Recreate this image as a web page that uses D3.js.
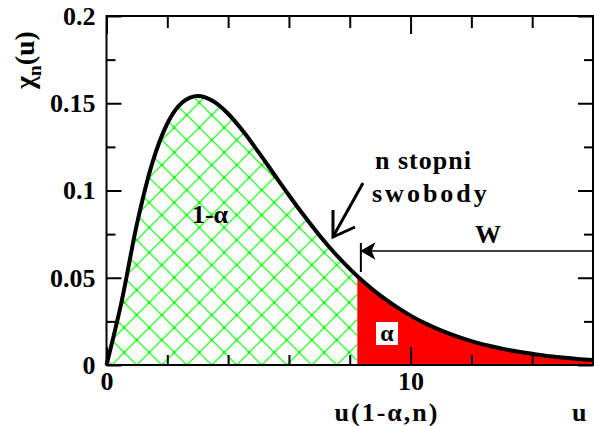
<!DOCTYPE html>
<html>
<head>
<meta charset="utf-8">
<script src="https://cdn.jsdelivr.net/npm/d3@7"></script>
<style>
  html, body { margin: 0; padding: 0; background: #fff; }
  svg { display: block; }
  text { font-family: "Liberation Serif", "Times New Roman", serif; font-weight: bold; fill: #000; }
</style>
</head>
<body>
<svg id="chart" width="594" height="426"></svg>
<script>
// ---- data ----
const uValues   = [0, 0.5, 1, 1.5, 2, 2.5, 3, 3.5, 4, 4.5, 5, 5.5, 6, 6.5, 7, 7.5, 8, 8.5, 9, 9.5, 10, 10.5, 11, 11.5, 12, 12.5, 13, 13.5, 14, 14.5, 15, 15.5, 16];
const chiValues = [0, 0.0366, 0.0807, 0.1154, 0.1384, 0.1506, 0.1542, 0.1513, 0.1440, 0.1338, 0.1220, 0.1096, 0.0973, 0.0855, 0.0744, 0.0642, 0.0551, 0.0470, 0.0399, 0.0337, 0.0283, 0.0237, 0.0198, 0.0165, 0.0137, 0.0113, 0.0094, 0.0077, 0.0064, 0.0052, 0.0043, 0.0035, 0.0029];
const criticalU = 8.25;
const xMajorTicks = [0, 10];
const xMinorTicks = [2, 4, 6, 8, 12, 14];
const yMajorTicks = [0, 0.05, 0.1, 0.15, 0.2];
const yMinorTicks = [0.025, 0.075, 0.125, 0.175];
const xDomain = [0, 16];
const yDomain = [0, 0.2];

// ---- layout ----
const svg = d3.select("#chart");
const L = 106.5, R = 593, T = 16, B = 365;
const x = d3.scaleLinear().domain(xDomain).range([L, R]);
const y = d3.scaleLinear().domain(yDomain).range([B, T]);

const pts = uValues.map((u, i) => ({u, v: chiValues[i]}));

// hatch pattern
const defs = svg.append("defs");
const pat = defs.append("pattern")
  .attr("id", "hatch").attr("patternUnits", "userSpaceOnUse")
  .attr("width", 25).attr("height", 25).attr("x", 11.7).attr("y", 15);
pat.append("path").attr("d", "M0,0 L25,25 M25,0 L0,25 M-5,20 L5,30 M20,-5 L30,5 M-5,5 L5,-5 M20,30 L30,20")
  .attr("stroke", "#00ff00").attr("stroke-width", 1.2).attr("fill", "none");
[[0,0],[12.5,12.5],[25,0],[0,25],[25,25]].forEach(([a,b]) =>
  pat.append("rect").attr("x", a-1.2).attr("y", b-1.2).attr("width", 2.4).attr("height", 2.4).attr("fill", "#00ff00"));

defs.append("clipPath").attr("id", "clipLeft").append("rect")
  .attr("x", L).attr("y", T).attr("width", x(criticalU) - L).attr("height", B - T);
defs.append("clipPath").attr("id", "clipRight").append("rect")
  .attr("x", x(criticalU)).attr("y", T).attr("width", R - x(criticalU)).attr("height", B - T);

const area = d3.area().x(d => x(d.u)).y0(y(0)).y1(d => y(d.v)).curve(d3.curveMonotoneX);
const line = d3.line().x(d => x(d.u)).y(d => y(d.v)).curve(d3.curveMonotoneX);

svg.append("path").datum(pts).attr("d", area).attr("fill", "url(#hatch)").attr("clip-path", "url(#clipLeft)");
svg.append("path").datum(pts).attr("d", area).attr("fill", "#ff0000").attr("clip-path", "url(#clipRight)");

// axes (ticks inside)
function styleAxis(g) {
  g.select(".domain").remove();
  g.selectAll(".tick line").attr("stroke", "#000").attr("stroke-width", 2);
  g.selectAll(".tick text").attr("font-size", 26).attr("font-family", "Liberation Serif, serif").attr("font-weight", "bold").attr("fill", "#000");
}
svg.append("g").attr("transform", `translate(0,${B})`)
  .call(d3.axisBottom(x).tickValues(xMajorTicks).tickSize(-18).tickPadding(7).tickFormat(d3.format("d")))
  .call(styleAxis);
svg.append("g").attr("transform", `translate(0,${B})`)
  .call(d3.axisBottom(x).tickValues(xMinorTicks).tickSize(-10).tickFormat(""))
  .call(styleAxis);
svg.append("g").attr("transform", `translate(0,${T})`)
  .call(d3.axisTop(x).tickValues(xMajorTicks).tickSize(-18).tickFormat(""))
  .call(styleAxis);
svg.append("g").attr("transform", `translate(0,${T})`)
  .call(d3.axisTop(x).tickValues(xMinorTicks).tickSize(-12).tickFormat(""))
  .call(styleAxis);
svg.append("g").attr("transform", `translate(${L},0)`)
  .call(d3.axisLeft(y).tickValues(yMajorTicks).tickSize(-15).tickPadding(11).tickFormat(d => d === 0 ? "0" : String(d)))
  .call(styleAxis);
svg.append("g").attr("transform", `translate(${L},0)`)
  .call(d3.axisLeft(y).tickValues(yMinorTicks).tickSize(-9).tickFormat(""))
  .call(styleAxis);
svg.append("g").attr("transform", `translate(${R},0)`)
  .call(d3.axisRight(y).tickValues(yMajorTicks).tickSize(-15).tickFormat(""))
  .call(styleAxis);
svg.append("g").attr("transform", `translate(${R},0)`)
  .call(d3.axisRight(y).tickValues(yMinorTicks).tickSize(-9).tickFormat(""))
  .call(styleAxis);

// frame
svg.append("rect").attr("x", L).attr("y", T).attr("width", R - L).attr("height", B - T)
  .attr("fill", "none").attr("stroke", "#000").attr("stroke-width", 2);

// curve
svg.append("path").datum(pts).attr("d", line).attr("fill", "none")
  .attr("stroke", "#000").attr("stroke-width", 4).attr("stroke-linejoin", "round");

// W arrow
const xc = x(criticalU) + 3.5;
svg.append("line").attr("x1", xc).attr("x2", xc).attr("y1", 243).attr("y2", 272).attr("stroke", "#000").attr("stroke-width", 2);
svg.append("line").attr("x1", xc).attr("x2", R).attr("y1", 251).attr("y2", 251).attr("stroke", "#000").attr("stroke-width", 1.5);
svg.append("path").attr("d", `M${xc+1},251 L${xc+13},244 L${xc+10},251 L${xc+13},258 Z`).attr("fill", "#000").attr("stroke", "#000").attr("stroke-width", 1.5).attr("stroke-linejoin", "miter");
svg.append("text").attr("x", 488).attr("y", 243).attr("text-anchor", "middle").attr("font-size", 26).text("W");

// pointer arrow
svg.append("path").attr("d", "M363,183 L334,235").attr("stroke", "#000").attr("stroke-width", 3).attr("fill", "none");
svg.append("path").attr("d", "M333,210 L333,237 L355,227").attr("stroke", "#000").attr("stroke-width", 3).attr("fill", "none").attr("stroke-linejoin", "miter");
svg.append("text").attr("x", 375).attr("y", 169).attr("font-size", 26).attr("letter-spacing", 1).text("n stopni");
svg.append("text").attr("x", 372).attr("y", 202).attr("font-size", 26).attr("letter-spacing", 3).text("swobody");

// region labels
svg.append("text").attr("x", 210).attr("y", 223).attr("text-anchor", "middle").attr("font-size", 26).text("1-α");
svg.append("rect").attr("x", 376).attr("y", 322).attr("width", 22).attr("height", 23).attr("fill", "#fff");
svg.append("text").attr("x", 387).attr("y", 341).attr("text-anchor", "middle").attr("font-size", 24).text("α");

// axis titles
svg.append("text").attr("x", 387).attr("y", 421).attr("text-anchor", "middle").attr("font-size", 26).attr("letter-spacing", 2).text("u(1-α,n)");
svg.append("text").attr("x", 572).attr("y", 421).attr("font-size", 26).text("u");
const yl = svg.append("text").attr("transform", "translate(34,60) rotate(-90)").attr("text-anchor", "middle").attr("font-size", 28);
yl.append("tspan").text("χ");
yl.append("tspan").attr("font-size", 19).attr("dy", 7).text("n");
yl.append("tspan").attr("dy", -7).text("(u)");
</script>
</body>
</html>
